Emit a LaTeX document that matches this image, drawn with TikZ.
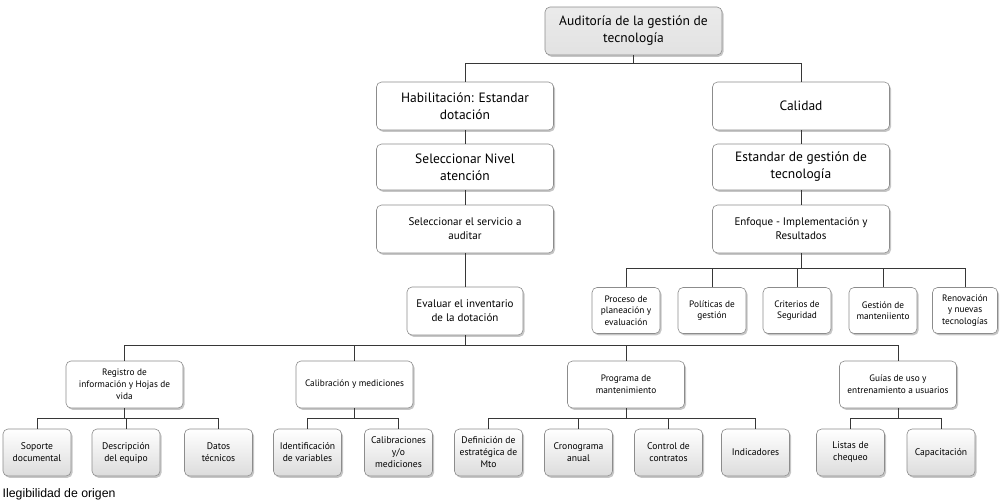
\documentclass[tikz,border=0pt]{standalone}
\usepackage{fontspec}
\setmainfont{PT Sans}
\newfontfamily\notefont{Liberation Sans}
\usetikzlibrary{shadows}
\definecolor{boxline}{RGB}{140,140,140}
\definecolor{connline}{RGB}{55,55,55}
\definecolor{topfill}{RGB}{226,226,226}
\definecolor{leafbot}{RGB}{220,220,220}
\begin{document}
\begin{tikzpicture}[x=1pt,y=-1pt,
  box/.style={draw=boxline, line width=0.6pt, rounded corners=5pt, align=center,
    inner sep=2pt, fill=white,
    drop shadow={shadow xshift=1.5pt,shadow yshift=-1.8pt,opacity=0.45}},
  bigbox/.style={box, minimum width=177pt, minimum height=48pt, font=\fontsize{13.5}{17}\selectfont},
  midbox/.style={box, minimum height=48pt, font=\fontsize{11}{14}\selectfont},
  smallbox/.style={box, minimum width=68pt, minimum height=46pt, font=\fontsize{9.3}{11.3}\selectfont},
  lvlbox/.style={box, minimum width=117pt, minimum height=47pt, font=\fontsize{9.3}{11.8}\selectfont},
  leaf/.style={box, minimum width=68pt, minimum height=47pt, top color=white, bottom color=leafbot,
    font=\fontsize{9.6}{12}\selectfont},
  conn/.style={draw=connline, line width=0.8pt}
]
\useasboundingbox (0,0) rectangle (1000,501);

% upper level
\node[bigbox, top color=white!92!black, bottom color=topfill] (top) at (633.5,31) {Auditoría de la gestión de\\tecnología};
\node[bigbox] (hab) at (465,106) {Habilitación: Estandar\\dotación};
\node[bigbox, minimum height=46pt] (niv) at (465,167) {Seleccionar Nivel\\atención};
\node[midbox, minimum width=177pt] (serv) at (465,229) {Seleccionar el servicio a\\auditar};
\node[midbox, minimum width=116pt] (eval) at (465,311) {Evaluar el inventario\\de la dotación};

\node[bigbox] (cal) at (801,106) {Calidad};
\node[bigbox, minimum height=46pt] (est) at (801,167) {Estandar de gestión de\\tecnología};
\node[midbox, minimum width=177pt] (enf) at (801,229) {Enfoque - Implementación y\\Resultados};

% five right boxes
\node[smallbox] (proc) at (626,310.5) {Proceso de\\planeación y\\evaluación};
\node[smallbox] (pol) at (712,310.5) {Políticas de\\gestión};
\node[smallbox] (crit) at (797,310.5) {Criterios de\\Seguridad};
\node[smallbox] (gest) at (883,310.5) {Gestión de\\manteniiento};
\node[smallbox, minimum width=65pt] (ren) at (965,310.5) {Renovación\\y nuevas\\tecnologías};

% level 2
\node[lvlbox] (reg) at (124.5,384.5) {Registro de\\información y Hojas de\\vida};
\node[lvlbox] (calib) at (354.5,384.5) {Calibración y mediciones};
\node[lvlbox] (prog) at (626,384.5) {Programa de\\mantenimiento};
\node[lvlbox] (guia) at (898,384.5) {Guías de uso y\\entrenamiento a usuarios};

% leaves
\node[leaf] (sop) at (37,452.5) {Soporte\\documental};
\node[leaf] (desc) at (126,452.5) {Descripción\\del equipo};
\node[leaf] (dat) at (218.5,452.5) {Datos\\técnicos};
\node[leaf] (iden) at (307.5,452.5) {Identificación\\de variables};
\node[leaf] (calm) at (398.5,452.5) {Calibraciones\\y/o\\mediciones};
\node[leaf] (defi) at (488.5,452.5) {Definición de\\estratégica de\\Mto};
\node[leaf] (cron) at (578.5,452.5) {Cronograma\\anual};
\node[leaf] (cont) at (668.5,452.5) {Control de\\contratos};
\node[leaf] (indi) at (755.5,452.5) {Indicadores};
\node[leaf] (list) at (850.5,452.5) {Listas de\\chequeo};
\node[leaf] (capa) at (941,452.5) {Capacitación};

% row coordinates for the branching lines
\coordinate (r1) at (0,63);
\coordinate (r2) at (0,268);
\coordinate (r3) at (0,345);
\coordinate (r4) at (0,418);

% connectors
\draw[conn] (top.south) -- (top.south |- r1);
\draw[conn] (top.south |- r1) -| (hab.north);
\draw[conn] (top.south |- r1) -| (cal.north);
\draw[conn] (hab) -- (niv);
\draw[conn] (niv) -- (serv);
\draw[conn] (serv) -- (eval);
\draw[conn] (cal) -- (est);
\draw[conn] (est) -- (enf);

\draw[conn] (enf.south) -- (enf.south |- r2);
\foreach \n in {proc,pol,crit,gest,ren} {\draw[conn] (enf.south |- r2) -| (\n.north);}

\draw[conn] (eval.south) -- (eval.south |- r3);
\foreach \n in {reg,calib,prog,guia} {\draw[conn] (eval.south |- r3) -| (\n.north);}

\draw[conn] (reg.south) -- (reg.south |- r4);
\foreach \n in {sop,desc,dat} {\draw[conn] (reg.south |- r4) -| (\n.north);}
\draw[conn] (calib.south) -- (calib.south |- r4);
\foreach \n in {iden,calm} {\draw[conn] (calib.south |- r4) -| (\n.north);}
\draw[conn] (prog.south) -- (prog.south |- r4);
\foreach \n in {defi,cron,cont,indi} {\draw[conn] (prog.south |- r4) -| (\n.north);}
\draw[conn] (guia.south) -- (guia.south |- r4);
\foreach \n in {list,capa} {\draw[conn] (guia.south |- r4) -| (\n.north);}

% note
\node[anchor=base west, inner sep=0pt, font=\notefont\fontsize{12.3}{14}\selectfont] (note) at (2.5,497) {Ilegibilidad de origen};
\end{tikzpicture}
\end{document}
